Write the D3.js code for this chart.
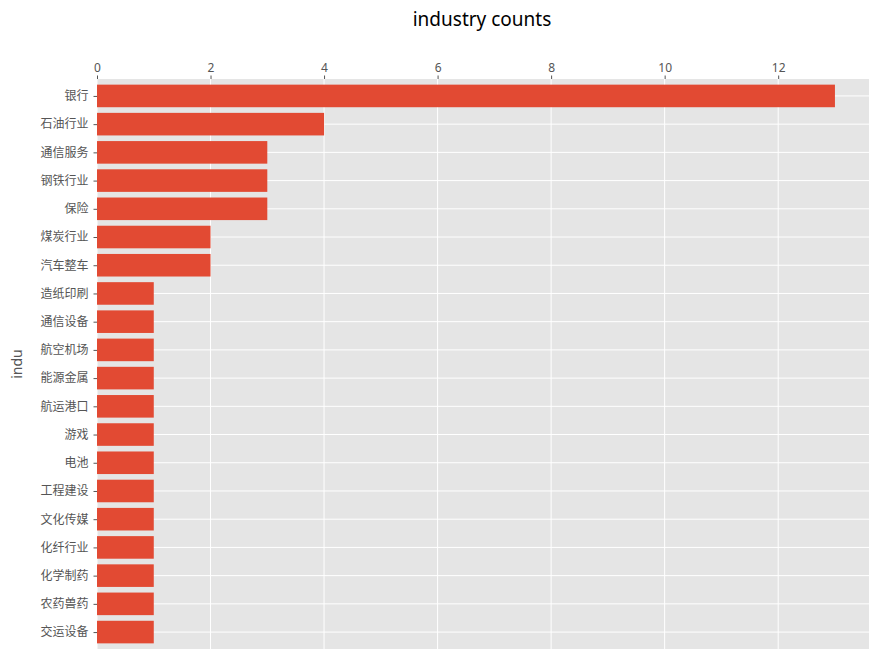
<!DOCTYPE html>
<html><head><meta charset="utf-8">
<script src="https://cdn.jsdelivr.net/npm/d3@7"></script>
<style>body{margin:0;background:#fff;font-family:"Noto Sans","Noto Sans CJK SC",sans-serif;}</style>
</head><body><div id="chart"></div>
<script>
const industries = ["银行","石油行业","通信服务","钢铁行业","保险","煤炭行业","汽车整车","造纸印刷","通信设备","航空机场","能源金属","航运港口","游戏","电池","工程建设","文化传媒","化纤行业","化学制药","农药兽药","交运设备"];
const counts = [13,4,3,3,3,2,2,1,1,1,1,1,1,1,1,1,1,1,1,1];
const xTicks = [0,2,4,6,8,10,12];

const width = 881, height = 661;
const plotLeft = 97, plotRight = 869, plotTop = 79, plotBottom = 649;

const svg = d3.select("#chart").append("svg").attr("width", width).attr("height", height);
const x = d3.scaleLinear().domain([0, 13.6]).range([plotLeft, plotRight]);
const y = d3.scaleLinear().domain([-0.6, 19.6]).range([plotTop, plotBottom]);
const bandH = y(0.8) - y(0);

svg.append("rect").attr("x", plotLeft).attr("y", plotTop).attr("width", plotRight - plotLeft).attr("height", plotBottom - plotTop).attr("fill", "#E5E5E5");

// 网格线
svg.selectAll(".gx").data(xTicks).enter().append("line")
  .attr("x1", d => x(d)).attr("x2", d => x(d)).attr("y1", plotTop).attr("y2", plotBottom)
  .attr("stroke", "#fff").attr("stroke-width", 1);
svg.selectAll(".gy").data(industries).enter().append("line")
  .attr("x1", plotLeft).attr("x2", plotRight).attr("y1", (d, i) => y(i)).attr("y2", (d, i) => y(i))
  .attr("stroke", "#fff").attr("stroke-width", 1);

// 柱子
svg.selectAll(".bar").data(counts).enter().append("rect")
  .attr("x", x(0)).attr("y", (d, i) => y(i) - bandH / 2)
  .attr("width", d => x(d) - x(0)).attr("height", bandH)
  .attr("fill", "#E24A33");

// 顶部坐标轴
const xAxis = svg.append("g").attr("transform", `translate(0,${plotTop})`)
  .call(d3.axisTop(x).tickValues(xTicks).tickSize(3.5).tickPadding(4));
xAxis.select(".domain").remove();
xAxis.selectAll("line").attr("stroke", "#555");
xAxis.selectAll("text").attr("fill", "#555").style("font-size", "12px").style("font-family", "Noto Sans, sans-serif");

// 左侧坐标轴
const yAxis = svg.append("g").attr("transform", `translate(${plotLeft},0)`)
  .call(d3.axisLeft(y).tickValues(d3.range(industries.length)).tickFormat(i => industries[i]).tickSize(3.5).tickPadding(5));
yAxis.select(".domain").remove();
yAxis.selectAll("line").attr("stroke", "#555");
yAxis.selectAll("text").attr("fill", "#555").style("font-size", "12px").style("font-family", "Noto Sans CJK SC, sans-serif");

svg.append("text").attr("x", (plotLeft + plotRight) / 2 - 1).attr("y", 26).attr("text-anchor", "middle")
  .style("font-size", "19px").attr("fill", "#000").text("industry counts");
svg.append("text").attr("transform", `translate(22,${(plotTop + plotBottom) / 2}) rotate(-90)`).attr("text-anchor", "middle")
  .style("font-size", "14px").attr("fill", "#555").text("indu");
</script></body></html>
